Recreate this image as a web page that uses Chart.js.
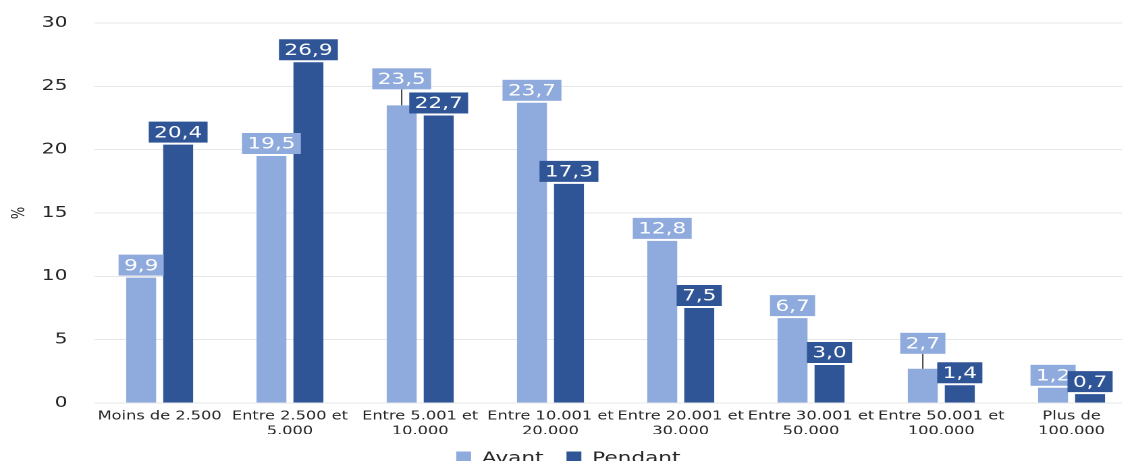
<!DOCTYPE html>
<html>
<head>
<meta charset="utf-8">
<script src="https://cdn.jsdelivr.net/npm/chart.js@4.4.0/dist/chart.umd.min.js"></script>
<style>
  html, body { margin: 0; padding: 0; background: #fff; overflow: hidden; }
  #wrap { width: 1122px; height: 461px; overflow: hidden; }
  /* the original picture is stretched sideways, so is this one */
  #c { transform: scaleX(1.35); transform-origin: 0 0; margin-top: -6px; display: block; }
</style>
</head>
<body>
<div id="wrap"><canvas id="c" width="842" height="483"></canvas></div>
<script>
const categories = [
    'Moins de 2.500',
    ['Entre 2.500 et', '5.000'],
    ['Entre 5.001 et', '10.000'],
    ['Entre 10.001 et', '20.000'],
    ['Entre 20.001 et', '30.000'],
    ['Entre 30.001 et', '50.000'],
    ['Entre 50.001 et', '100.000'],
    ['Plus de', '100.000']
]
const avant = [9.9, 19.5, 23.5, 23.7, 12.8, 6.7, 2.7, 1.2]
const pendant = [20.4, 26.9, 22.7, 17.3, 7.5, 3.0, 1.4, 0.7]
const yMax = 30
const yStep = 5

const font = '"DejaVu Sans", Verdana, sans-serif'

// value boxes above the bars, like the excel labels
const valueBoxes = {
    id: 'valueBoxes',
    afterDatasetsDraw(chart, args, opts) {
        const ctx = chart.ctx
        ctx.save()
        ctx.font = '16px ' + font
        ctx.textAlign = 'center'
        ctx.textBaseline = 'middle'
        chart.data.datasets.forEach((ds, di) => {
            const meta = chart.getDatasetMeta(di)
            meta.data.forEach((bar, i) => {
                const text = ds.data[i].toFixed(1).replace('.', ',')
                const w = ctx.measureText(text).width + 8
                const h = 21
                const lift = (opts.lift[di] && opts.lift[di][i]) || 0
                const bottom = bar.y - 2 - lift
                if (lift) {
                    ctx.strokeStyle = '#404040'
                    ctx.lineWidth = 1
                    ctx.beginPath()
                    ctx.moveTo(bar.x, bottom)
                    ctx.lineTo(bar.x, bar.y)
                    ctx.stroke()
                }
                ctx.fillStyle = ds.backgroundColor
                ctx.fillRect(bar.x - w / 2, bottom - h, w, h)
                ctx.fillStyle = '#fff'
                ctx.fillText(text, bar.x, bottom - h / 2 + 1)
            })
        })
        ctx.restore()
    }
}

new Chart(document.getElementById('c'), {
    type: 'bar',
    data: {
        labels: categories,
        datasets: [
            {
                label: 'Avant',
                data: avant,
                backgroundColor: '#8FAADC',
                borderWidth: 0,
                categoryPercentage: 0.568,
                barPercentage: 0.81
            },
            {
                label: 'Pendant',
                data: pendant,
                backgroundColor: '#2F5597',
                borderWidth: 0,
                categoryPercentage: 0.568,
                barPercentage: 0.81
            }
        ]
    },
    options: {
        responsive: false,
        animation: false,
        devicePixelRatio: 2,
        layout: { padding: { top: 8, right: 0, left: 0, bottom: 0 } },
        plugins: {
            legend: {
                position: 'bottom',
                labels: {
                    font: { family: font, size: 16 },
                    color: '#262626',
                    boxWidth: 11,
                    boxHeight: 15,
                    padding: 17
                }
            },
            tooltip: { enabled: false },
            valueBoxes: {
                lift: { 0: { 2: 14, 6: 13 } }
            }
        },
        scales: {
            x: {
                grid: { display: false },
                border: { display: false },
                ticks: {
                    font: { family: font, size: 12, lineHeight: 1.25 },
                    color: '#262626',
                    maxRotation: 0,
                    autoSkip: false,
                    padding: -2
                },
                afterFit(scale) { scale.height = 31 }
            },
            y: {
                min: 0,
                max: yMax,
                ticks: {
                    stepSize: yStep,
                    font: { family: font, size: 15 },
                    color: '#262626',
                    padding: 20
                },
                grid: { color: '#E6E6E6', lineWidth: 1, drawTicks: false },
                border: { display: false },
                title: {
                    display: true,
                    text: '%',
                    font: { family: font, size: 13 },
                    color: '#262626',
                    padding: { top: 7, bottom: 0 }
                },
                afterFit(scale) { scale.width = 70 }
            }
        }
    },
    plugins: [valueBoxes]
})
</script>
</body>
</html>
